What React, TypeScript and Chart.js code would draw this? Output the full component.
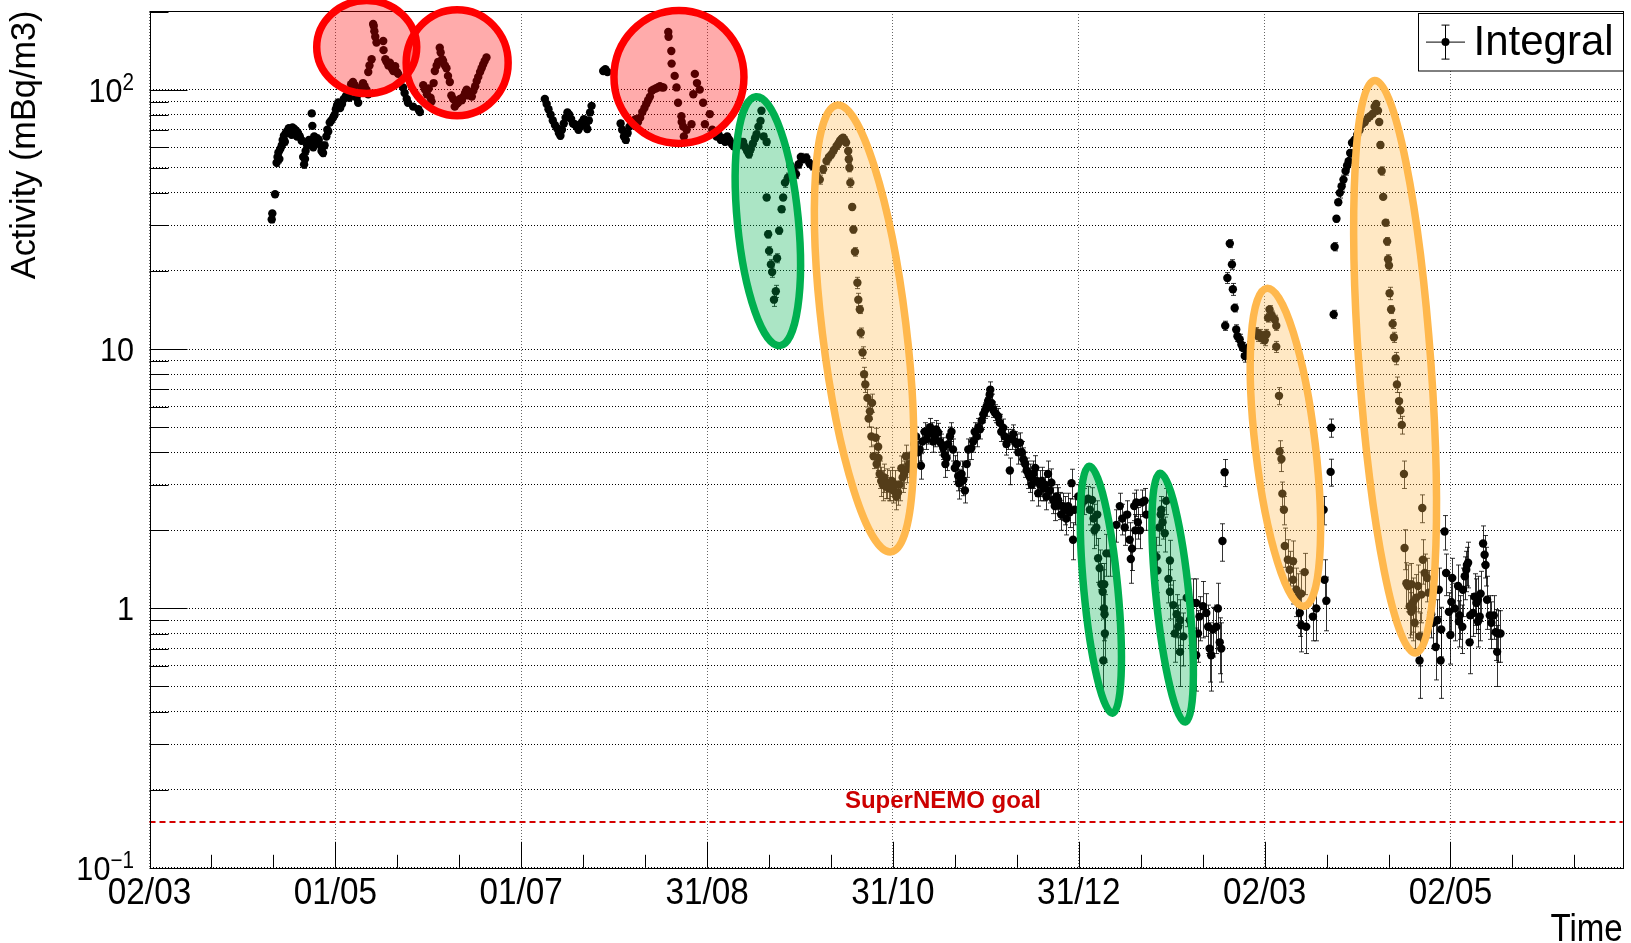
import React, { useEffect, useRef } from 'react';
import { Chart, registerables } from 'chart.js';

Chart.register(...registerables);

// ---------------- axis definitions ----------------
// x = days since the first axis label (02/03); ROOT time axis, major step = 1/6 year
const TICK_STEP_DAYS = 365 / 6;
const X_MAX_DAYS = 482.2;
const xTickLabels = ['02/03', '01/05', '01/07', '31/08', '31/10', '31/12', '02/03', '02/05'];

const Y_MIN = 0.1;
const Y_MAX = 201;
const yGridValues = [
  0.1, 0.2, 0.3, 0.4, 0.5, 0.6, 0.7, 0.8, 0.9,
  1, 2, 3, 4, 5, 6, 7, 8, 9,
  10, 20, 30, 40, 50, 60, 70, 80, 90,
  100, 200,
];
const yMajorValues = [0.1, 1, 10, 100];
const yTickLabels = [
  { value: 100, base: '10', exp: '2' },
  { value: 10, base: '10', exp: '' },
  { value: 1, base: '1', exp: '' },
  { value: 0.1, base: '10', exp: '\u22121' },
];

const yAxisTitle = 'Activity (mBq/m3)';
const xAxisTitle = 'Time';
const legendLabel = 'Integral';
const goalValue = 0.15;
const goalLabel = 'SuperNEMO goal';

// ---------------- data: [day, activity mBq/m3] ----------------
const springRise: [number, number][] = [
  [40.0, 31.6], [40.2, 33.3], [41.1, 39.5], [41.6, 52.3], [41.9, 55], [42.2, 57.2], [42.5, 54], [42.8, 59], [43.3, 61],
  [43.6, 64], [44.0, 66.4], [44.3, 63], [44.6, 68], [45.1, 69.3], [45.6, 71], [46.2, 70], [46.5, 67], [46.8, 71.5], [47.4, 70.5],
  [48.0, 69.5], [48.3, 66], [48.6, 68], [49.2, 66], [49.8, 63.5], [50.3, 55], [50.6, 51.5], [50.9, 54], [51.1, 58], [51.6, 61],
  [52.2, 64], [52.7, 63], [53.1, 81], [53.3, 72.5], [53.6, 60], [53.9, 66], [54.2, 62], [54.8, 65], [55.4, 64],
  [56.0, 61], [56.3, 58], [56.8, 57], [57.3, 61], [57.9, 66], [58.2, 70], [58.5, 69], [59.0, 74.7], [59.5, 76],
  [60.1, 78], [60.6, 80], [61.0, 84], [61.4, 87], [61.8, 89.2], [62.4, 85], [63.0, 88], [63.6, 92],
  [64.3, 94.6], [64.9, 97], [65.4, 93], [66.0, 105], [66.6, 107], [67.2, 104], [67.8, 93], [68.3, 89],
  [68.8, 97], [69.3, 102], [69.9, 106], [70.4, 103], [71.0, 100], [71.6, 96], [71.6, 117], [72.0, 124],
  [72.7, 131], [73.2, 179], [73.4, 176], [73.6, 168], [73.9, 160], [74.3, 152], [76.5, 154], [76.6, 142],
  [77.2, 131], [77.6, 128], [78.2, 124], [78.7, 127], [79.3, 121], [79.8, 118], [80.4, 123], [81.0, 117],
  [81.4, 115], [83.0, 102], [83.5, 97], [84.2, 92], [84.6, 89], [86.3, 86], [88.0, 84], [88.5, 82],
];

const springSecondPeak: [number, number][] = [
  [89.6, 104], [90.2, 100], [90.8, 96], [91.4, 101], [92.0, 93], [92.3, 90], [93.0, 106], [93.4, 118],
  [94.0, 124], [94.5, 128], [95.0, 145], [95.3, 139], [95.8, 131], [96.1, 129], [96.7, 124], [97.2, 121],
  [97.7, 113], [98.3, 107], [98.8, 95], [99.4, 92], [99.9, 86], [100.5, 88], [101.0, 89], [101.6, 92],
  [102.2, 91], [102.7, 94], [103.3, 97], [103.8, 100], [104.4, 95], [104.9, 97], [105.5, 94], [106.0, 99],
  [106.6, 103], [107.1, 108], [107.6, 112], [108.2, 117], [108.7, 121], [109.2, 125], [109.7, 129], [110.3, 133],
];

const summerPlateau: [number, number][] = [
  [129.4, 92], [130.0, 88], [130.6, 84], [131.3, 80], [132.0, 76], [132.7, 73], [133.4, 71], [134.0, 68],
  [134.5, 66.4], [135.0, 70], [135.6, 74], [136.2, 78], [136.8, 81.7], [137.4, 80], [138.0, 77], [138.6, 74],
  [139.2, 73.6], [139.8, 72], [140.4, 70], [141.0, 72], [141.6, 75], [142.2, 77], [142.8, 73], [143.3, 70.5],
  [143.8, 76], [144.2, 81.7], [144.7, 86.6],
  [148.5, 118], [149.2, 120], [149.9, 117],
  [154.2, 74], [154.7, 70], [155.3, 66], [155.9, 64], [156.5, 68], [157.1, 72], [157.8, 74], [158.5, 76],
  [159.2, 77], [159.9, 75], [160.6, 78], [161.3, 82], [162.0, 85], [162.6, 88], [163.2, 91], [163.8, 94],
  [164.4, 99], [164.9, 100], [165.7, 101], [166.4, 102], [167.1, 103], [167.8, 102], [168.2, 102],
  [169.8, 167], [169.9, 160], [170.8, 141], [170.9, 126], [171.9, 113], [172.5, 102], [173.0, 89], [174.1, 79],
  [174.2, 75], [174.7, 72], [174.9, 66], [175.8, 70], [177.4, 73.6], [178.0, 96], [178.5, 115], [179.2, 106],
  [180.1, 100], [181.2, 89], [181.8, 73.6], [183.4, 80.5], [184.2, 70], [184.9, 68], [185.6, 66], [186.3, 67],
  [187.0, 64], [187.7, 65], [188.4, 63], [189.1, 66], [189.8, 64], [190.5, 62], [191.2, 60.5], [192.0, 62],
  [192.8, 61], [193.4, 63],
];

const autumnFirstDrop: [number, number][] = [
  [193.8, 62], [194.3, 62.8], [195.0, 60], [195.6, 58], [196.2, 56.3], [196.8, 59], [197.5, 62], [198.2, 65],
  [198.7, 67.3], [199.3, 72], [200.0, 75.8], [200.3, 82.9], [201.0, 66], [202.0, 62.8], [202.0, 38.4],
  [202.5, 27.7], [202.8, 23.9], [203.4, 21.2], [203.8, 19.8], [204.4, 15.5], [205.0, 16.7], [205.4, 22.4],
  [206.1, 28.6], [206.9, 34.6], [207.4, 38.4], [208.0, 43.8], [209.0, 45.9],
];

const autumnRiseAndDecay: [number, number][] = [
  [209.8, 51], [210.8, 49], [211.6, 47.2], [212.5, 51.6], [213.2, 55], [214.0, 54], [215.0, 54.7], [216.0, 52],
  [217.0, 50.8], [218.3, 47], [219.4, 45], [220.5, 49.3], [221.6, 53.1], [222.4, 55], [223.2, 56.3], [224.0, 58.5],
  [224.9, 60.6], [225.5, 62], [226.0, 63.5], [226.5, 64.5], [227.0, 65.3], [227.5, 64], [228.0, 62.5], [228.7, 58],
  [228.9, 53.9], [229.1, 50], [229.4, 43.8], [230.0, 35.3], [230.4, 28.9], [230.9, 23.7], [231.7, 18], [232.0, 15.5],
  [232.5, 14.2], [232.8, 11.55], [233.4, 9.7], [233.9, 8.0], [234.3, 7.3], [235.0, 6.48], [235.4, 5.4], [235.8, 5.75],
  [236.3, 4.6], [236.5, 6.2], [237.0, 3.86], [237.7, 4.55], [238.0, 3.6], [238.5, 4.2], [238.6, 3.8], [239.0, 3.3],
  [239.5, 3.1], [240.0, 3.0], [240.5, 3.2], [241.0, 2.95], [241.5, 3.05], [242.0, 2.9], [242.5, 3.0], [243.0, 3.1],
  [243.5, 2.85], [244.0, 3.0], [244.5, 2.7], [245.0, 2.8], [245.5, 3.0], [246.1, 3.47], [246.5, 3.2], [247.0, 3.3],
  [247.6, 3.86], [248.0, 3.45], [248.6, 3.6],
];

const winterBump: [number, number][] = [
  [249.5, 3.9], [250.3, 4.3], [250.9, 4.6], [251.5, 4.0], [252.1, 4.1], [252.5, 3.55], [253.0, 4.4], [253.7, 4.8],
  [254.3, 4.5], [254.9, 4.7], [255.5, 5.0], [256.0, 4.8], [256.5, 4.4], [257.0, 4.6], [257.5, 4.9], [258.1, 4.77],
  [258.6, 4.4], [259.2, 4.3], [259.8, 4.15], [260.3, 3.9], [260.9, 3.8], [260.5, 3.6], [261.4, 4.3], [262.0, 4.6],
  [262.5, 4.8], [263.0, 4.1], [263.6, 3.48], [264.2, 3.6], [264.7, 3.24], [265.0, 3.04], [265.8, 3.3], [266.3, 3.12],
  [266.9, 2.85], [267.5, 3.6], [268.0, 4.1], [269.0, 4.15], [269.6, 4.4], [270.1, 4.8], [270.7, 4.6], [271.3, 5.0],
  [271.8, 4.9], [272.4, 5.3], [272.9, 5.6], [273.5, 5.8], [274.0, 6.0], [274.5, 6.3], [275.0, 6.67], [275.2, 6.97],
  [275.6, 6.2], [276.1, 5.85], [276.6, 5.7], [277.2, 5.6], [277.8, 5.5], [278.3, 5.2], [278.8, 4.8], [279.4, 4.97],
  [279.9, 4.6], [280.5, 4.3], [281.0, 4.5], [281.6, 3.4], [282.2, 4.5], [282.7, 4.7], [283.3, 4.4], [283.8, 4.3],
  [284.4, 4.0], [284.9, 4.35], [285.5, 4.0], [286.0, 3.76], [286.6, 3.6], [287.1, 3.4], [287.7, 3.3], [288.2, 3.2],
  [288.8, 3.0], [289.3, 3.3], [289.9, 3.48], [290.4, 3.1], [290.9, 2.78], [291.5, 3.0], [292.0, 3.1], [292.6, 2.9],
  [293.1, 3.0], [293.6, 2.7], [294.1, 3.3], [294.7, 2.85], [295.2, 3.05], [295.8, 2.62], [296.3, 2.48], [296.9, 2.7],
  [297.4, 2.62], [297.9, 2.5], [298.4, 2.3], [299.0, 2.48], [299.6, 2.4], [300.1, 2.22], [300.7, 2.48], [301.2, 2.35],
  [301.8, 3.04], [302.3, 1.84], [302.8, 2.4],
];

const januaryDrops: [number, number][] = [
  [304.0, 2.7], [305.0, 2.5], [306.0, 2.6], [307.2, 2.65], [307.8, 2.4], [308.5, 2.62], [309.0, 2.22], [309.3, 2.0],
  [309.9, 2.05], [310.2, 2.3], [310.5, 1.56], [311.0, 1.43], [311.6, 1.24], [312.0, 1.16], [312.5, 1.24], [312.4, 1.0],
  [312.6, 0.95], [312.7, 0.8], [312.2, 0.63], [313.2, 1.63], [314.3, 1.63],
  [316.5, 2.1], [317.6, 2.48], [318.4, 2.22], [319.2, 2.05], [320.0, 2.3], [320.8, 1.84], [321.2, 1.55], [321.6, 1.7],
  [322.3, 2.48], [322.7, 2.0], [323.0, 2.56], [323.5, 2.15], [324.2, 2.0], [324.8, 2.56], [325.7, 2.6], [326.3, 2.3],
  [329.6, 1.58], [329.9, 1.4], [330.5, 2.05], [331.2, 2.4], [331.0, 2.3], [331.6, 2.15], [332.3, 1.95], [332.8, 2.6],
  [333.5, 1.3], [334.0, 1.53], [334.0, 1.16], [335.1, 1.03], [336.2, 0.95], [337.3, 0.9], [336.7, 0.85], [335.6, 0.8],
  [337.3, 0.68], [338.4, 0.78],
];

const februaryLow: [number, number][] = [
  [339.5, 1.1], [340.5, 0.9], [341.5, 1.05], [342.6, 1.05], [342.6, 0.66], [343.2, 0.8], [343.7, 0.93], [344.8, 1.02],
  [345.9, 0.96], [346.5, 0.85], [347.0, 0.7], [347.5, 0.66], [348.1, 0.83], [349.2, 0.85], [349.7, 1.0], [350.3, 0.74],
  [350.8, 0.7], [351.2, 1.82], [351.9, 3.35],
];

const marchJumpAndDrop: [number, number][] = [
  [352.1, 12.3], [352.8, 18.8], [353.6, 25.5], [354.3, 21.2], [354.6, 17.0], [355.2, 14.4], [355.7, 11.9], [356.1, 11.2],
  [356.8, 10.9], [357.4, 10.4], [357.9, 10.1], [358.5, 9.4], [359.2, 9.8], [360.0, 10.2],
  [362.3, 11.6], [362.9, 11.2], [363.4, 11.4], [364.0, 11.0], [364.5, 11.2], [365.0, 10.8], [365.6, 11.4], [366.1, 13.2],
  [366.6, 14.2], [367.3, 13.5], [368.3, 13.0], [368.8, 12.3], [368.8, 10.2], [369.7, 6.6], [369.9, 4.03], [370.5, 3.77],
  [370.8, 2.77], [371.3, 2.4], [371.6, 1.74], [372.6, 1.54], [373.2, 1.41], [374.3, 1.52], [374.3, 1.29], [375.4, 1.18],
  [375.9, 1.11], [377.0, 1.14], [378.1, 1.38], [376.5, 0.96], [377.0, 0.86], [378.6, 0.85], [380.8, 0.93], [381.9, 1.0],
  [384.6, 1.29], [385.2, 1.07], [384.3, 2.4], [386.8, 4.97], [386.6, 3.36],
];

const aprilRiseAndDrop: [number, number][] = [
  [387.6, 13.6], [387.9, 24.8], [388.5, 31.8], [389.1, 36.8], [389.6, 40], [390.2, 42.4], [390.8, 45], [391.5, 48.6],
  [392.0, 51], [392.5, 53], [393.0, 57], [393.6, 62.4], [394.4, 64], [395.3, 67], [396.1, 70], [397.0, 73.7],
  [397.8, 75], [398.7, 77.5], [399.5, 79], [400.4, 80.8], [401.0, 86], [401.5, 88], [402.1, 83],
  [402.5, 75], [402.9, 61.2], [403.3, 48.6], [403.8, 38.6], [404.6, 30.7], [405.1, 26], [405.4, 22.2], [405.7, 21],
  [405.9, 16.4], [406.4, 14.2], [406.9, 12.5], [407.3, 11.1], [407.9, 9.2], [408.3, 7.3], [409.0, 6.3], [409.4, 5.8],
  [409.9, 5.1], [410.6, 3.3],
];

const mayPlateau: [number, number][] = [
  [410.8, 1.71], [411.4, 1.25], [411.9, 1.22], [412.5, 1.02], [413.0, 1.24], [413.0, 0.97], [413.6, 1.06], [413.6, 1.0],
  [414.1, 0.88], [414.6, 1.1], [415.2, 1.22], [415.7, 0.78], [415.7, 0.63], [416.3, 1.13], [416.6, 2.44], [416.8, 1.54],
  [417.4, 1.37], [418.2, 1.31], [418.7, 1.15], [419.5, 0.95], [420.1, 0.88], [421.0, 0.71], [421.5, 0.9], [422.0, 1.18],
  [422.6, 0.63], [422.8, 0.83], [423.9, 1.98], [424.4, 1.37], [425.3, 0.97], [425.8, 0.79], [426.1, 1.06], [426.4, 1.31],
  [427.2, 1.0], [428.3, 1.22], [428.6, 0.89], [428.8, 0.94], [429.7, 0.85], [429.9, 1.18], [430.5, 1.33], [431.0, 1.41],
  [431.2, 1.47], [431.6, 1.5], [432.1, 0.74], [432.3, 0.94], [433.2, 0.96], [433.7, 1.11], [434.3, 1.05], [434.8, 1.08],
  [434.8, 0.89], [435.4, 0.93], [435.7, 1.14], [436.5, 1.78], [437.0, 1.61], [437.3, 1.47], [437.8, 1.08], [438.7, 0.94],
  [439.2, 0.88], [440.0, 0.94], [440.6, 0.81], [441.1, 0.68], [441.4, 0.8], [442.2, 0.8],
];

// approximate statistical error (mBq/m3) read per activity band: [upper activity, error]
const errorBands: [number, number][] = [
  [1, 0.18], [1.5, 0.25], [3, 0.3], [6, 0.4], [15, 0.5], [40, 0.9], [Infinity, 1.8],
];

// annotation shapes drawn over the graph (center in data units, radii in px, tilt in degrees)
const highlightEllipses = [
  { kind: 'red', day: 71.1, value: 146, rx: 50, ry: 46.5, tilt: 0 },
  { kind: 'red', day: 100.7, value: 127, rx: 51, ry: 53, tilt: 0 },
  { kind: 'red', day: 173.3, value: 112, rx: 65, ry: 66.5, tilt: 0 },
  { kind: 'green', day: 202.4, value: 31.1, rx: 30.5, ry: 125, tilt: 5.5 },
  { kind: 'orange', day: 233.9, value: 12.0, rx: 42, ry: 225, tilt: 6.9 },
  { kind: 'green', day: 311.4, value: 1.18, rx: 17, ry: 124, tilt: 5.4 },
  { kind: 'green', day: 334.9, value: 1.1, rx: 16.5, ry: 125, tilt: 5.8 },
  { kind: 'orange', day: 371.8, value: 4.18, rx: 30, ry: 160, tilt: 6.7 },
  { kind: 'orange', day: 407.7, value: 8.55, rx: 36, ry: 287, tilt: 4.1 },
];

const ellipseStyles: Record<string, { stroke: string; fill: string }> = {
  red: { stroke: '#ff0000', fill: 'rgba(255,0,0,0.33)' },
  green: { stroke: '#00b050', fill: 'rgba(0,176,80,0.33)' },
  orange: { stroke: '#ffb84d', fill: 'rgba(255,184,77,0.33)' },
};

const allPoints: [number, number][] = [
  ...springRise, ...springSecondPeak, ...summerPlateau, ...autumnFirstDrop, ...autumnRiseAndDecay,
  ...winterBump, ...januaryDrops, ...februaryLow, ...marchJumpAndDrop, ...aprilRiseAndDrop, ...mayPlateau,
];

function statError(v: number): number {
  for (const [lim, e] of errorBands) if (v < lim) return e;
  return 1.8;
}

const FONT = '"Liberation Sans", Arial, Helvetica, sans-serif';

function drawText(
  ctx: CanvasRenderingContext2D, text: string, x: number, y: number, size: number,
  align: CanvasTextAlign, scaleX = 1, weight = 'normal', color = '#000'
) {
  ctx.save();
  ctx.font = `${weight} ${size}px ${FONT}`;
  ctx.fillStyle = color;
  ctx.textBaseline = 'alphabetic';
  ctx.textAlign = align;
  ctx.translate(x, y);
  ctx.scale(scaleX, 1);
  ctx.fillText(text, 0, 0);
  ctx.restore();
}

function textWidth(ctx: CanvasRenderingContext2D, text: string, size: number, scaleX = 1, weight = 'normal') {
  ctx.save();
  ctx.font = `${weight} ${size}px ${FONT}`;
  const w = ctx.measureText(text).width * scaleX;
  ctx.restore();
  return w;
}

const majorTickDays = xTickLabels.map((_, i) => i * TICK_STEP_DAYS);

const rootPlugin = {
  id: 'rootDecor',
  beforeDatasetsDraw(chart: any) {
    const { ctx, chartArea, scales } = chart;
    const x = scales.x, y = scales.y;
    ctx.save();
    ctx.beginPath();
    ctx.rect(chartArea.left, chartArea.top, chartArea.right - chartArea.left, chartArea.bottom - chartArea.top);
    ctx.clip();
    ctx.strokeStyle = 'rgba(0,0,0,0.8)';
    ctx.lineWidth = 1;
    ctx.beginPath();
    for (const [d, v] of allPoints) {
      const e = statError(v);
      const px = Math.round(x.getPixelForValue(d)) + 0.5;
      const yTop = y.getPixelForValue(v + e);
      const yBot = y.getPixelForValue(Math.max(v - e, Y_MIN * 0.5));
      ctx.moveTo(px, yTop); ctx.lineTo(px, yBot);
      ctx.moveTo(px - 2.5, yTop); ctx.lineTo(px + 2.5, yTop);
      ctx.moveTo(px - 2.5, yBot); ctx.lineTo(px + 2.5, yBot);
    }
    ctx.stroke();
    ctx.restore();
  },
  afterDatasetsDraw(chart: any) {
    const { ctx, chartArea, scales } = chart;
    const x = scales.x, y = scales.y;
    const { left, right, top, bottom } = chartArea;

    // goal line
    ctx.save();
    const gy = y.getPixelForValue(goalValue);
    ctx.strokeStyle = '#d40000';
    ctx.lineWidth = 2;
    ctx.setLineDash([6, 4]);
    ctx.beginPath();
    ctx.moveTo(left, gy); ctx.lineTo(right, gy);
    ctx.stroke();
    ctx.restore();
    drawText(ctx, goalLabel, x.getPixelForValue(259.7), gy - 14.5, 24, 'center', 1, 'bold', '#cc0000');

    // frame
    ctx.save();
    ctx.strokeStyle = '#000';
    ctx.lineWidth = 1;
    ctx.strokeRect(Math.round(left) + 0.5, Math.round(top) + 0.5, Math.round(right - left), Math.round(bottom - top));
    // x ticks (inside, upward)
    ctx.beginPath();
    for (let k = 0; k * TICK_STEP_DAYS <= X_MAX_DAYS; k++) {
      for (let m = 0; m < 3; m++) {
        const d = k * TICK_STEP_DAYS + (m * TICK_STEP_DAYS) / 3;
        if (d > X_MAX_DAYS) continue;
        const px = Math.round(x.getPixelForValue(d)) + 0.5;
        const len = m === 0 ? 26 : 13;
        ctx.moveTo(px, bottom); ctx.lineTo(px, bottom - len);
      }
    }
    // y ticks (inside, rightward)
    for (const v of yGridValues) {
      const py = Math.round(y.getPixelForValue(v)) + 0.5;
      const len = yMajorValues.includes(v) ? 38 : 19;
      ctx.moveTo(left, py); ctx.lineTo(left + len, py);
    }
    ctx.stroke();
    ctx.restore();

    // x labels
    xTickLabels.forEach((lab, i) => {
      drawText(ctx, lab, x.getPixelForValue(majorTickDays[i]), bottom + 35.7, 37, 'center', 0.9);
    });
    // y labels
    const labelRight = left - 15.5;
    for (const lab of yTickLabels) {
      const py = y.getPixelForValue(lab.value);
      const supW = lab.exp ? textWidth(ctx, lab.exp, 23, 0.9) : 0;
      drawText(ctx, lab.base, labelRight - supW, py + 12, 34, 'right', 0.9);
      if (lab.exp) drawText(ctx, lab.exp, labelRight, py + 0.5, 23, 'right', 0.9);
    }
    // axis titles
    drawText(ctx, xAxisTitle, right, bottom + 73.5, 38, 'right', 0.87);
    ctx.save();
    ctx.translate(left - 115, top - 0.5);
    ctx.rotate(-Math.PI / 2);
    ctx.font = `normal 35px ${FONT}`;
    ctx.fillStyle = '#000';
    ctx.textAlign = 'right';
    ctx.textBaseline = 'alphabetic';
    ctx.scale(0.98, 1);
    ctx.fillText(yAxisTitle, 0, 0);
    ctx.restore();

    // highlight ellipses
    for (const el of highlightEllipses) {
      const st = ellipseStyles[el.kind];
      const cx = x.getPixelForValue(el.day);
      const cy = y.getPixelForValue(el.value);
      ctx.save();
      ctx.beginPath();
      ctx.ellipse(cx, cy, el.rx, el.ry, (-el.tilt * Math.PI) / 180, 0, Math.PI * 2);
      ctx.fillStyle = st.fill;
      ctx.fill();
      ctx.lineWidth = 7.5;
      ctx.strokeStyle = st.stroke;
      ctx.stroke();
      ctx.restore();
    }

    // legend
    ctx.save();
    const lx1 = Math.round(right) + 0.5;
    const lx0 = lx1 - 205;
    const ly0 = top + 2.5;
    const ly1 = ly0 + 57.5;
    ctx.fillStyle = '#fff';
    ctx.fillRect(lx0, ly0, lx1 - lx0, ly1 - ly0);
    ctx.strokeStyle = '#000';
    ctx.lineWidth = 1;
    ctx.strokeRect(lx0, ly0, lx1 - lx0, ly1 - ly0);
    const mx = lx0 + 27, my = ly0 + 28.6;
    ctx.beginPath();
    ctx.moveTo(mx - 19.5, my); ctx.lineTo(mx + 19.5, my);
    ctx.moveTo(mx, my - 17); ctx.lineTo(mx, my + 17);
    ctx.moveTo(mx - 4, my - 17); ctx.lineTo(mx + 4, my - 17);
    ctx.moveTo(mx - 4, my + 17); ctx.lineTo(mx + 4, my + 17);
    ctx.stroke();
    ctx.beginPath();
    ctx.arc(mx, my, 4, 0, Math.PI * 2);
    ctx.fillStyle = '#000';
    ctx.fill();
    ctx.restore();
    drawText(ctx, legendLabel, lx0 + 55, ly0 + 41.6, 42, 'left');
  },
};

export default function App() {
  const canvasRef = useRef<HTMLCanvasElement | null>(null);

  useEffect(() => {
    if (!canvasRef.current) return;
    const chart = new Chart(canvasRef.current, {
      type: 'scatter',
      data: {
        datasets: [
          {
            label: legendLabel,
            data: allPoints.map(([d, v]) => ({ x: d, y: v })),
            pointRadius: 4.2,
            pointHoverRadius: 4.2,
            pointBackgroundColor: '#000',
            pointBorderWidth: 0,
            showLine: false,
          },
        ],
      },
      options: {
        responsive: false,
        animation: false,
        events: [],
        layout: { padding: { left: 149.5, top: 11, right: 8.3, bottom: 75.2 } },
        plugins: { legend: { display: false }, tooltip: { enabled: false } },
        scales: {
          x: {
            type: 'linear',
            min: 0,
            max: X_MAX_DAYS,
            ticks: { display: false },
            grid: { color: '#666', lineWidth: 1, drawTicks: false },
            border: { display: false, dash: [1, 2] },
            afterBuildTicks: (s: any) => { s.ticks = majorTickDays.map((v) => ({ value: v })); },
            afterFit: (s: any) => { s.height = 0; },
          },
          y: {
            type: 'logarithmic',
            min: Y_MIN,
            max: Y_MAX,
            ticks: { display: false },
            grid: { color: '#000', lineWidth: 1, drawTicks: false },
            border: { display: false, dash: [1, 2] },
            afterBuildTicks: (s: any) => { s.ticks = yGridValues.map((v) => ({ value: v })); },
            afterFit: (s: any) => { s.width = 0; },
          },
        },
      } as any,
      plugins: [rootPlugin],
    });
    return () => chart.destroy();
  }, []);

  return (
    <div style={{ position: 'fixed', left: 0, top: 0, background: '#fff' }}>
      <canvas ref={canvasRef} width={1631} height={943} style={{ display: 'block' }} />
    </div>
  );
}
